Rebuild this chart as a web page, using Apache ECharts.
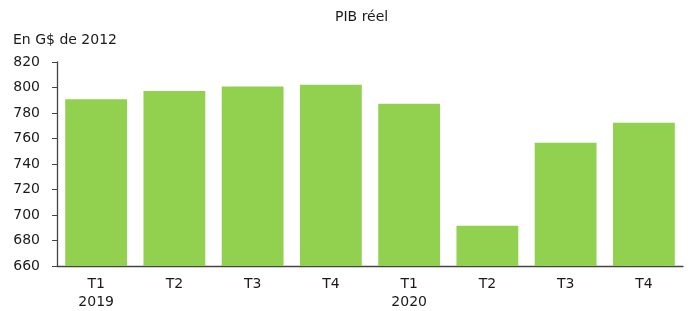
<!DOCTYPE html>
<html>
<head>
<meta charset="utf-8">
<script src="https://cdn.jsdelivr.net/npm/echarts@6/dist/echarts.min.js"></script>
<style>
  html, body { margin: 0; padding: 0; background: #fff; }
  #chart1 { width: 691px; height: 311px; }
</style>
</head>
<body>
<div id="chart1"></div>
<script>
// data
const quarters = ['T1\n2019', 'T2', 'T3', 'T4', 'T1\n2020', 'T2', 'T3', 'T4'];
const pibReel = [790.8, 797.3, 800.8, 802.1, 787.3, 691.5, 756.7, 772.4];
const yTicks = { min: 660, max: 820, step: 20 };

const font = '"DejaVu Sans", "Open Sans", sans-serif';

const echart1 = echarts.init(document.getElementById('chart1'), null, { renderer: 'canvas' });

const option = {
  backgroundColor: '#fff',
  animation: false,
  textStyle: { fontFamily: font },
  title: {
    text: 'PIB réel',
    left: 330, top: 5,
    textStyle: { fontFamily: font, fontSize: 14, fontWeight: 'normal', color: '#1a1a1a' }
  },
  graphic: [{
    type: 'text',
    left: 13, top: 33,
    style: { text: 'En G$ de 2012', font: '14px ' + font, fill: '#1a1a1a' }
  }],
  grid: { left: 57, right: 8, top: 62, bottom: 41 },
  xAxis: {
    type: 'category',
    data: quarters,
    axisLine: { lineStyle: { color: '#444', width: 1.3 } },
    axisTick: { show: false },
    axisLabel: { color: '#1a1a1a', fontSize: 14, lineHeight: 18, margin: 9, fontFamily: font }
  },
  yAxis: {
    type: 'value',
    min: yTicks.min, max: yTicks.max, interval: yTicks.step,
    axisLine: { show: true, lineStyle: { color: '#444', width: 1.3 } },
    axisTick: { show: true, length: 5, lineStyle: { color: '#444' } },
    splitLine: { show: false },
    axisLabel: { color: '#1a1a1a', fontSize: 14, margin: 17, fontFamily: font }
  },
  series: [{
    type: 'bar',
    data: pibReel,
    barCategoryGap: '21%',
    itemStyle: { color: '#92D050' }
  }]
};

echart1.setOption(option);
</script>
</body>
</html>
